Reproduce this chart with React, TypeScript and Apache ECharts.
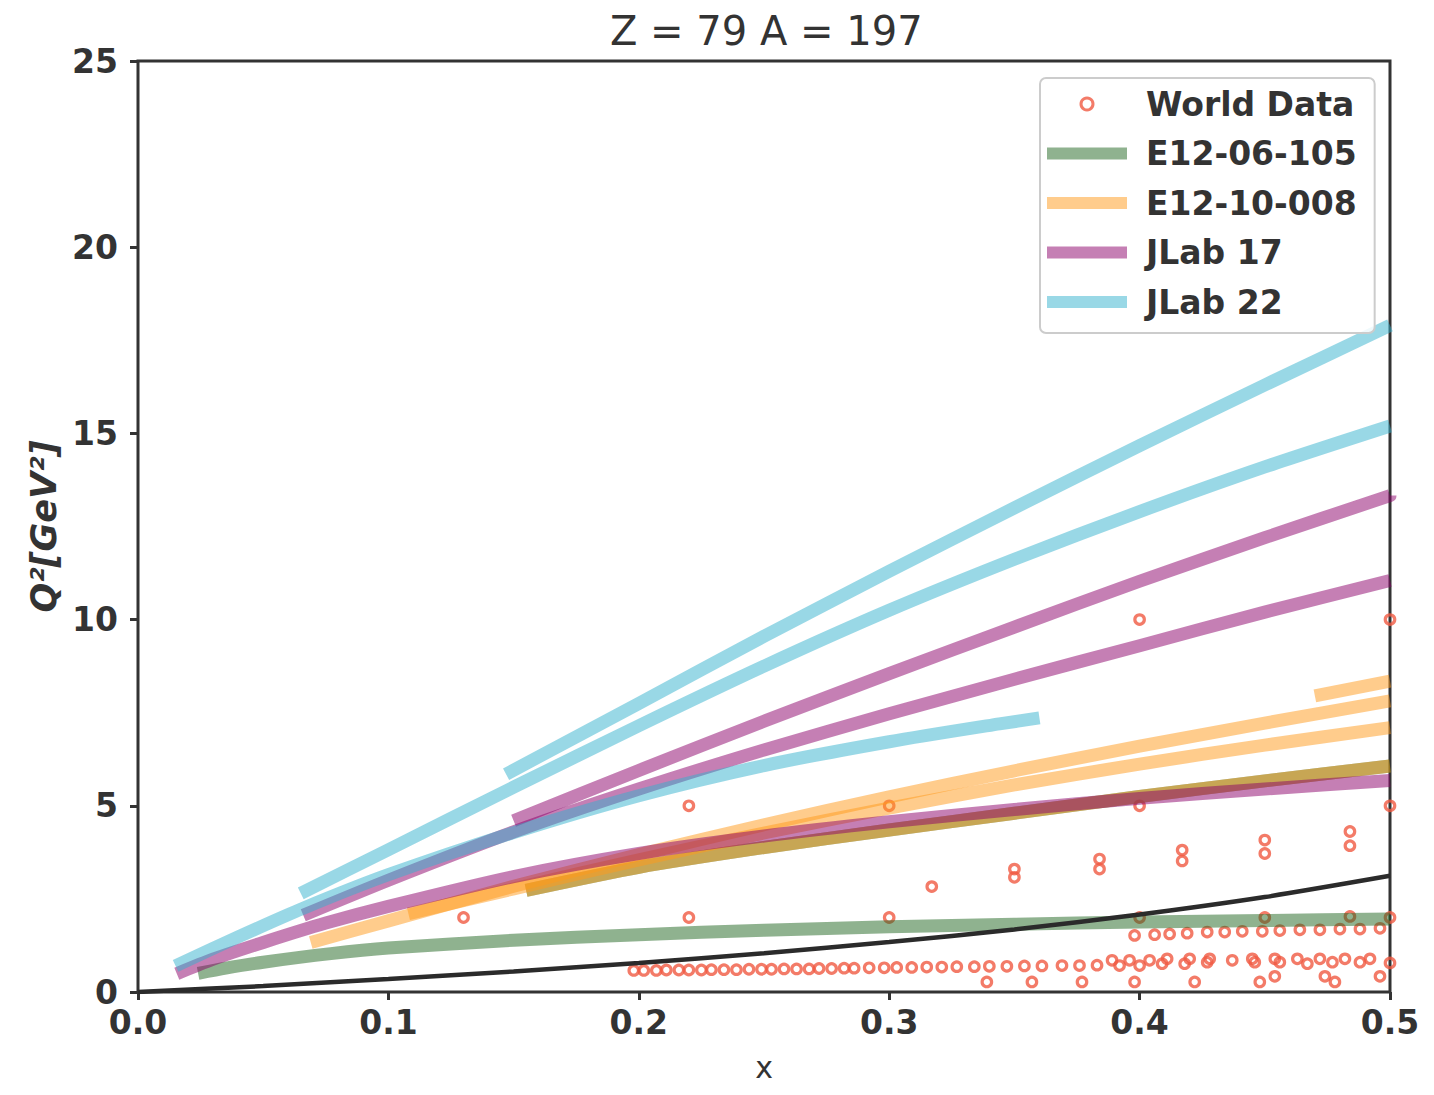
import React, { useEffect, useRef } from "react";
import * as echarts from "echarts";

// ---------- tick labels ----------
const xTickLabels = ["0.0", "0.1", "0.2", "0.3", "0.4", "0.5"];
const yTickLabels = ["0", "5", "10", "15", "20", "25"];

// ---------- World Data (x, Q^2) ----------
const worldSingles: number[][] = [
  [0.13, 2.0], [0.22, 2.0], [0.22, 5.0], [0.3, 2.0], [0.3, 5.0], [0.317, 2.83],
  [0.35, 3.3], [0.35, 3.08], [0.384, 3.57], [0.384, 3.3], [0.4, 10.0], [0.4, 5.0],
  [0.4, 2.0], [0.417, 3.81], [0.417, 3.52], [0.45, 4.08], [0.45, 3.72], [0.45, 2.0],
  [0.484, 4.31], [0.484, 3.93], [0.484, 2.03], [0.5, 10.0], [0.5, 5.0], [0.5, 2.0],
];
const worldMidRow: number[][] = [
  [0.398, 1.52], [0.406, 1.54], [0.412, 1.56], [0.419, 1.58], [0.427, 1.61], [0.434, 1.61],
  [0.441, 1.63], [0.449, 1.63], [0.456, 1.65], [0.464, 1.67], [0.472, 1.67], [0.48, 1.69],
  [0.488, 1.69], [0.496, 1.71],
];
const worldLowRow: number[][] = [
  [0.198, 0.58], [0.202, 0.58], [0.207, 0.58], [0.211, 0.59], [0.216, 0.59], [0.22, 0.59],
  [0.225, 0.59], [0.229, 0.6], [0.234, 0.6], [0.239, 0.6], [0.244, 0.61], [0.249, 0.61],
  [0.253, 0.61], [0.258, 0.62], [0.263, 0.62], [0.268, 0.62], [0.272, 0.63], [0.277, 0.63],
  [0.282, 0.64], [0.286, 0.64], [0.292, 0.65], [0.298, 0.65], [0.303, 0.66], [0.309, 0.66],
  [0.315, 0.67], [0.321, 0.67], [0.327, 0.68], [0.334, 0.68], [0.34, 0.69], [0.347, 0.69],
  [0.354, 0.7], [0.361, 0.7], [0.369, 0.71], [0.376, 0.71], [0.383, 0.72],
];
const worldLowRow2: number[][] = [
  [0.389, 0.85], [0.392, 0.71], [0.396, 0.85], [0.4, 0.71], [0.404, 0.85], [0.409, 0.76],
  [0.411, 0.89], [0.418, 0.76], [0.42, 0.89], [0.427, 0.8], [0.428, 0.89], [0.437, 0.85],
  [0.445, 0.89], [0.446, 0.8], [0.454, 0.89], [0.456, 0.8], [0.463, 0.89], [0.467, 0.76],
  [0.472, 0.89], [0.477, 0.8], [0.482, 0.89], [0.488, 0.8], [0.492, 0.89], [0.5, 0.78],
];
const worldBottomRow: number[][] = [
  [0.339, 0.27], [0.357, 0.27], [0.377, 0.27], [0.398, 0.27], [0.422, 0.27], [0.448, 0.27],
  [0.454, 0.42], [0.474, 0.42], [0.478, 0.27], [0.496, 0.42],
];

// ---------- E12-06-105 ----------
const green1: number[][] = [
  [0.024, 0.5], [0.035, 0.64], [0.05, 0.8], [0.077, 1.03], [0.1, 1.18], [0.15, 1.39],
  [0.2, 1.54], [0.25, 1.66], [0.3, 1.75], [0.35, 1.82], [0.4, 1.88], [0.45, 1.92], [0.5, 1.96],
];
const green2: number[][] = [
  [0.155, 2.73], [0.2, 3.35], [0.25, 3.88], [0.3, 4.35], [0.35, 4.8], [0.4, 5.25],
  [0.45, 5.67], [0.5, 6.07],
];

// ---------- E12-10-008 ----------
const orange1: number[][] = [
  [0.069, 1.33], [0.1, 1.91], [0.15, 2.84], [0.2, 3.69], [0.25, 4.49], [0.3, 5.24],
  [0.35, 5.94], [0.4, 6.6], [0.45, 7.22], [0.5, 7.82],
];
const orange2: number[][] = [
  [0.108, 2.1], [0.15, 2.77], [0.2, 3.55], [0.25, 4.27], [0.3, 4.94], [0.35, 5.56],
  [0.4, 6.12], [0.45, 6.63], [0.5, 7.1],
];
const orange3: number[][] = [
  [0.155, 2.73], [0.2, 3.35], [0.25, 3.88], [0.3, 4.35], [0.35, 4.8], [0.4, 5.25],
  [0.45, 5.67], [0.5, 6.07],
];
const orange4: number[][] = [[0.47, 7.95], [0.5, 8.35]];

// ---------- JLab 17 ----------
const purple1: number[][] = [
  [0.0155, 0.49], [0.03, 0.88], [0.05, 1.33], [0.075, 1.85], [0.1, 2.3], [0.15, 3.1],
  [0.2, 3.72], [0.25, 4.19], [0.3, 4.57], [0.35, 4.9], [0.4, 5.2], [0.45, 5.45], [0.5, 5.68],
];
const purple2: number[][] = [
  [0.066, 2.06], [0.1, 3.0], [0.15, 4.3], [0.2, 5.45], [0.25, 6.5], [0.3, 7.47],
  [0.35, 8.4], [0.4, 9.3], [0.45, 10.2], [0.5, 11.05],
];
const purple3: number[][] = [
  [0.15, 4.6], [0.2, 5.95], [0.25, 7.27], [0.3, 8.55], [0.35, 9.8], [0.4, 11.03],
  [0.45, 12.2], [0.5, 13.33],
];

// ---------- JLab 22 ----------
const blue1: number[][] = [
  [0.015, 0.7], [0.04, 1.48], [0.066, 2.25], [0.1, 3.15], [0.15, 4.28], [0.2, 5.27],
  [0.25, 6.08], [0.3, 6.72], [0.344, 7.2], [0.36, 7.36],
];
const blue2: number[][] = [
  [0.065, 2.65], [0.1, 3.82], [0.15, 5.5], [0.2, 7.15], [0.25, 8.75], [0.3, 10.25],
  [0.35, 11.62], [0.4, 12.9], [0.45, 14.1], [0.5, 15.2],
];
const blue3: number[][] = [
  [0.147, 5.85], [0.2, 7.75], [0.25, 9.55], [0.3, 11.3], [0.35, 13.0], [0.4, 14.67],
  [0.45, 16.3], [0.5, 17.9],
];

// ---------- kinematic limit (black) ----------
const blackLimit: number[][] = [
  [0, 0], [0.05, 0.16], [0.1, 0.35], [0.15, 0.55], [0.2, 0.78], [0.25, 1.04],
  [0.3, 1.34], [0.35, 1.68], [0.4, 2.08], [0.45, 2.55], [0.5, 3.12],
];

const FONT = "DejaVu Sans";
const TEXT = "#333333";
const RED = "#f05a42";
const GREEN = "rgba(31,101,31,0.5)";
const ORANGE = "rgba(255,153,25,0.5)";
const PURPLE = "rgba(139,0,105,0.5)";
const BLUE = "rgba(51,177,205,0.5)";

function band(name: string, data: number[][], color: string) {
  return {
    type: "line",
    name,
    data,
    symbol: "none",
    showSymbol: false,
    smooth: 0.25,
    silent: true,
    clip: true,
    lineStyle: { color, width: 13, cap: "butt", join: "round" },
    itemStyle: { color },
  };
}

function worldSeries(data: number[][]) {
  return {
    type: "scatter",
    name: "World Data",
    data,
    symbol: "circle",
    symbolSize: 9.5,
    silent: true,
    itemStyle: { color: "rgba(255,255,255,0)", borderColor: RED, borderWidth: 3.2 },
  };
}

export default function App() {
  const ref = useRef<HTMLDivElement>(null);
  useEffect(() => {
    const chart = echarts.init(ref.current!, null, { renderer: "svg" });
    const option: any = {
      animation: false,
      backgroundColor: "#ffffff",
      textStyle: { fontFamily: FONT },
      title: {
        text: "Z = 79 A = 197",
        left: 597,
        top: -2,
        textStyle: { fontFamily: FONT, fontSize: 40, fontWeight: "normal", color: TEXT },
      },
      grid: {
        left: 130,
        top: 53,
        width: 1252,
        height: 934,
        show: true,
        borderColor: "#333333",
        borderWidth: 3,
        backgroundColor: "transparent",
      },
      legend: {
        orient: "vertical",
        left: 1032,
        top: 70,
        padding: [8, 18, 13, 7],
        itemWidth: 80,
        itemHeight: 12,
        itemGap: 13.5,
        backgroundColor: "rgba(255,255,255,0.85)",
        borderColor: "#cccccc",
        borderWidth: 2,
        borderRadius: 6,
        selectedMode: false,
        textStyle: {
          fontFamily: FONT,
          fontSize: 33,
          fontWeight: "bold",
          color: TEXT,
          lineHeight: 36,
          padding: [0, 0, 0, 14],
        },
        data: [
          { name: "World Data", icon: "circle", itemStyle: { color: "#ffffff", borderColor: RED, borderWidth: 3 } },
          { name: "E12-06-105", icon: "rect", itemStyle: { color: GREEN, borderWidth: 0 } },
          { name: "E12-10-008", icon: "rect", itemStyle: { color: ORANGE, borderWidth: 0 } },
          { name: "JLab 17", icon: "rect", itemStyle: { color: PURPLE, borderWidth: 0 } },
          { name: "JLab 22", icon: "rect", itemStyle: { color: BLUE, borderWidth: 0 } },
        ],
      },
      xAxis: {
        type: "value",
        min: 0,
        max: 0.5,
        interval: 0.1,
        name: "x",
        nameLocation: "middle",
        nameGap: 60,
        nameTextStyle: { fontFamily: FONT, fontSize: 30, color: TEXT },
        axisLine: { show: false },
        axisTick: { show: true, length: 8, lineStyle: { color: "#333333", width: 3 } },
        splitLine: { show: false },
        axisLabel: {
          margin: 14,
          fontFamily: FONT,
          fontSize: 33,
          fontWeight: "bold",
          color: TEXT,
          formatter: (v: number) => xTickLabels[Math.round(v * 10)],
        },
      },
      yAxis: {
        type: "value",
        min: 0,
        max: 25,
        interval: 5,
        name: "Q²[GeV²]",
        nameLocation: "middle",
        nameGap: 76,
        nameTextStyle: { fontFamily: FONT, fontSize: 35, fontWeight: "bold", fontStyle: "italic", color: TEXT },
        axisLine: { show: false },
        axisTick: { show: true, length: 8, lineStyle: { color: "#333333", width: 3 } },
        splitLine: { show: false },
        axisLabel: {
          margin: 20,
          fontFamily: FONT,
          fontSize: 33,
          fontWeight: "bold",
          color: TEXT,
          formatter: (v: number) => yTickLabels[Math.round(v / 5)],
        },
      },
      series: [
        worldSeries(worldSingles),
        worldSeries(worldMidRow),
        worldSeries(worldLowRow),
        worldSeries(worldLowRow2),
        worldSeries(worldBottomRow),
        band("E12-06-105", green1, GREEN),
        band("E12-06-105", green2, GREEN),
        band("E12-10-008", orange1, ORANGE),
        band("E12-10-008", orange2, ORANGE),
        band("E12-10-008", orange3, ORANGE),
        band("E12-10-008", orange4, ORANGE),
        band("JLab 17", purple1, PURPLE),
        band("JLab 17", purple2, PURPLE),
        band("JLab 17", purple3, PURPLE),
        band("JLab 22", blue1, BLUE),
        band("JLab 22", blue2, BLUE),
        band("JLab 22", blue3, BLUE),
        {
          type: "line",
          name: "limit",
          data: blackLimit,
          symbol: "none",
          showSymbol: false,
          smooth: 0.25,
          silent: true,
          lineStyle: { color: "#2b2b2b", width: 4.5 },
          itemStyle: { color: "#2b2b2b" },
        },
      ],
    };
    chart.setOption(option);
    return () => chart.dispose();
  }, []);
  return <div ref={ref} style={{ width: 1418, height: 1079 }} />;
}
